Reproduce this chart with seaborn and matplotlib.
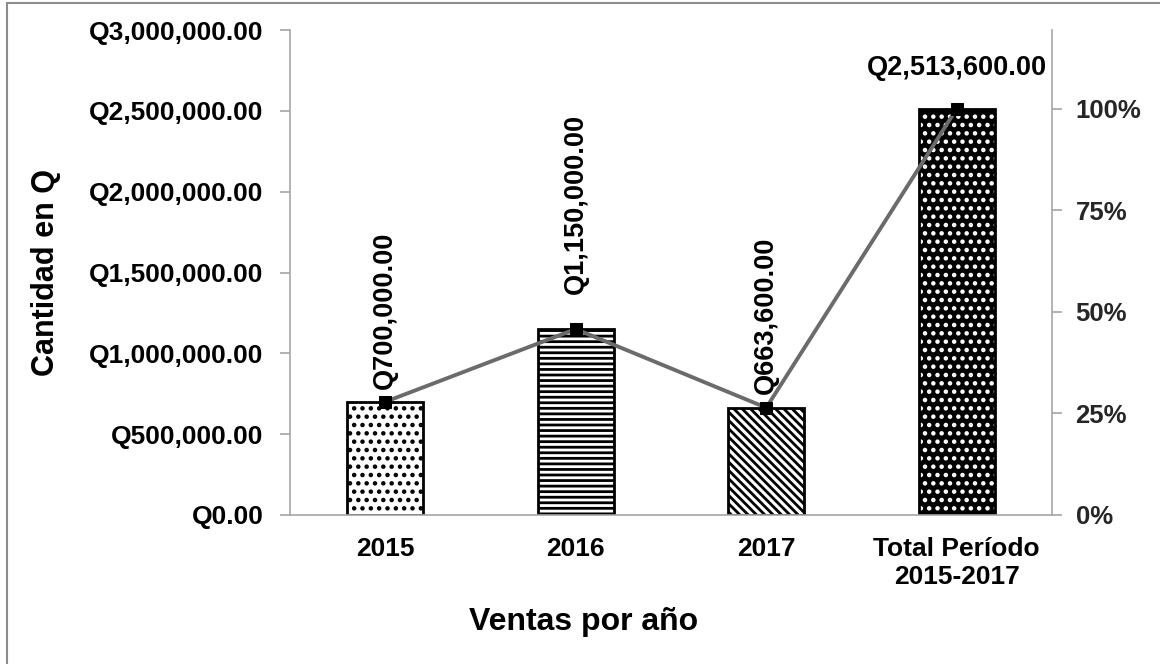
import matplotlib
matplotlib.use("Agg")
import matplotlib.pyplot as plt
import seaborn as sns
import pandas as pd
from matplotlib.patches import Rectangle
from matplotlib.ticker import FuncFormatter, MultipleLocator

categories = ["2015", "2016", "2017", "Total Período\n2015-2017"]
ventas = [700000, 1150000, 663600, 2513600]
porcentaje = [v / ventas[-1] * 100 for v in ventas]
etiquetas = ["Q700,000.00", "Q1,150,000.00", "Q663,600.00", "Q2,513,600.00"]

sns.set_theme(style="white")
plt.rcParams["font.family"] = ["Liberation Sans", "DejaVu Sans"]
plt.rcParams["font.weight"] = "bold"
plt.rcParams["hatch.linewidth"] = 2.0

fig = plt.figure(figsize=(11.6, 6.64), dpi=100)
ax = fig.add_axes([0.25, 0.2244, 0.6569, 0.7304])

df = pd.DataFrame({"cat": categories, "ventas": ventas, "pct": porcentaje})
sns.barplot(data=df, x="cat", y="ventas", ax=ax, width=0.40,
            color="white", edgecolor="black", linewidth=2, saturation=1)

hatches = ["..", "---", "\\\\\\\\", None]
bars = list(ax.patches)
for p, h in zip(bars, hatches):
    if h is not None:
        p.set_hatch(h)
        p.set_facecolor("white")
        p.set_edgecolor("black")
# total bar: dark with white dots
tb = bars[3]
tb.set_facecolor("black")
tb.set_edgecolor("white")
tb.set_hatch("..")
tb.set_linewidth(0)
ax.add_patch(Rectangle((tb.get_x(), 0), tb.get_width(), tb.get_height(),
                       fill=False, ec="black", lw=2, zorder=tb.get_zorder() + 0.1))

ax.set_ylim(0, 3000000)
ax.yaxis.set_major_locator(MultipleLocator(500000))
ax.yaxis.set_major_formatter(FuncFormatter(lambda v, p: f"Q{v:,.2f}"))
ax.set_xlim(-0.5, 3.5)

spine_c = "#a6a6a6"
for s in ["top", "right"]:
    ax.spines[s].set_visible(False)
for s in ["left", "bottom"]:
    ax.spines[s].set_color(spine_c)
    ax.spines[s].set_linewidth(1.2)
ax.tick_params(axis="y", which="both", left=True, length=7, width=1.2, color=spine_c,
               labelsize=19, pad=12)
ax.tick_params(axis="x", bottom=False, labelsize=19, pad=10)
for t in ax.get_yticklabels() + ax.get_xticklabels():
    t.set_fontweight("bold")
    t.set_color("black")
for t in ax.get_xticklabels():
    t.set_linespacing(1.2)

ax.set_xlabel("Ventas por año", fontsize=23, fontweight="bold", color="black")
ax.xaxis.set_label_coords(0.385, -0.19)
ax.set_ylabel("Cantidad en Q", fontsize=22, fontweight="bold", color="black")
ax.yaxis.set_label_coords(-0.300, 0.5)

# value labels
offsets = [9, 25, 10]
for i, (p, lab) in enumerate(zip(bars, etiquetas)):
    cx = p.get_x() + p.get_width() / 2
    if i < 3:
        ax.annotate(lab, (cx, p.get_height()), xytext=(0, offsets[i]),
                    textcoords="offset points", rotation=90, ha="center", va="bottom",
                    fontsize=19.5, fontweight="bold", color="black")
    else:
        ax.annotate(lab, (cx, p.get_height()), xytext=(0, 20),
                    textcoords="offset points", ha="center", va="bottom",
                    fontsize=19.5, fontweight="bold", color="black")

# secondary axis
ax2 = ax.twinx()
ax2.set_position(ax.get_position())
sns.lineplot(x=list(range(len(categories))), y=porcentaje, ax=ax2, color="#6b6b6b",
             linewidth=2.8, marker="s", markersize=8, markerfacecolor="black",
             markeredgecolor="black", zorder=5)
ax2.set_ylim(0, 3000000 / ventas[-1] * 100)
ax2.set_yticks([0, 25, 50, 75, 100])
ax2.yaxis.set_major_formatter(FuncFormatter(lambda v, p: f"{v:.0f}%"))
ax2.tick_params(axis="y", right=True, length=7, width=1.2, color=spine_c,
                labelsize=18.5, pad=10)
for t in ax2.get_yticklabels():
    t.set_fontweight("bold")
for s in ["top", "left", "bottom"]:
    ax2.spines[s].set_visible(False)
ax2.spines["right"].set_color(spine_c)
ax2.spines["right"].set_linewidth(1.2)
ax2.set_ylabel("")
ax2.grid(False)
ax.grid(False)

# outer border
fig.patches.append(Rectangle((7 / 1160, -0.1), 1.2, 1 - 3 / 664 + 0.1,
                             transform=fig.transFigure, fill=False,
                             ec="#8c8c8c", lw=1.5))

fig.savefig("out.png", dpi=100)
